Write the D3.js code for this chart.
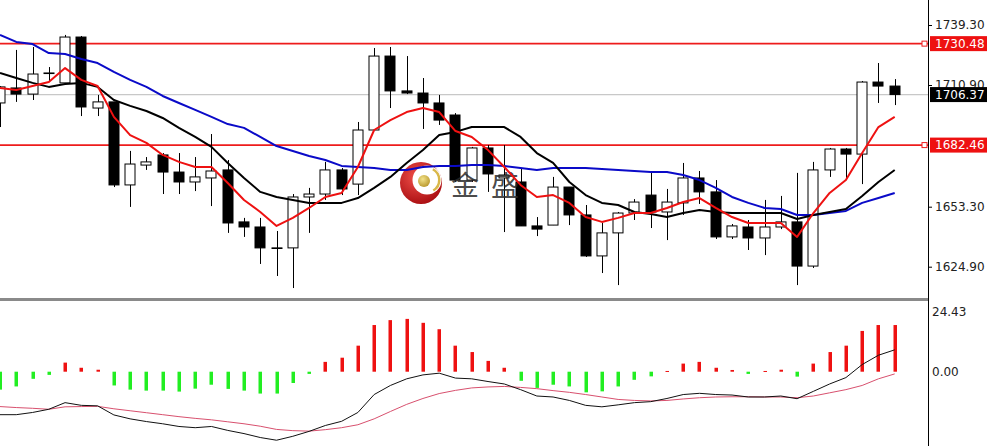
<!DOCTYPE html>
<html><head><meta charset="utf-8">
<script src="https://cdn.jsdelivr.net/npm/d3@7"></script>
<style>body{margin:0;background:#fff}svg{display:block}</style>
</head><body><svg id="c" width="987" height="446"></svg>
<script>
// ---- data ----
const opens = [1702.4,1709.5,1706.6,1716.4,1711.9,1733.6,1700.0,1702.9,1663.6,1673.0,
1677.8,1669.7,1665.0,1666.9,1670.7,1646.1,1643.7,1633.8,1633.8,1657.9,
1659.3,1670.7,1664.0,1689.6,1724.6,1708.1,1707.1,1702.4,1696.7,1665.9,
1681.1,1666.9,1665.0,1644.2,1644.6,1662.6,1649.4,1630.0,1640.9,1650.3,
1658.8,1650.8,1655.1,1666.9,1660.3,1639.0,1643.7,1638.5,1643.7,1646.1,
1625.2,1670.7,1680.6,1678.2,1712.3,1710.4];
const highs = [1710.4,1727.5,1728.9,1719.4,1734.6,1734.1,1706.2,1702.9,1679.7,1676.8,
1678.7,1678.7,1676.8,1687.7,1675.4,1648.0,1648.0,1641.8,1659.3,1662.2,
1674.5,1671.6,1693.4,1728.4,1728.9,1724.6,1714.2,1706.2,1697.6,1681.6,
1682.5,1682.5,1671.6,1648.4,1667.4,1662.6,1654.1,1645.6,1650.8,1656.9,
1669.3,1661.7,1674.0,1670.2,1665.9,1645.1,1647.0,1656.5,1658.4,1669.3,
1674.5,1681.1,1681.1,1712.8,1721.3,1713.7];
const lows = [1691.0,1702.9,1703.8,1712.8,1711.9,1696.2,1696.2,1662.6,1653.2,1670.7,
1659.3,1659.3,1660.7,1653.6,1640.9,1639.0,1626.2,1620.5,1614.8,1640.9,
1656.5,1658.8,1658.8,1689.6,1700.0,1706.6,1690.1,1692.0,1665.0,1665.0,
1660.3,1641.3,1644.2,1639.4,1644.6,1644.6,1629.5,1621.9,1616.2,1647.0,
1643.2,1637.5,1649.4,1654.6,1638.0,1638.0,1632.8,1630.4,1642.7,1616.2,
1624.3,1667.4,1666.9,1664.0,1702.4,1701.4];
const closes = [1710.0,1706.6,1716.1,1716.6,1733.6,1700.5,1702.9,1663.6,1673.5,1674.5,
1669.7,1665.0,1667.4,1670.2,1645.6,1643.7,1633.8,1633.6,1657.9,1659.3,
1670.7,1661.7,1689.6,1724.6,1708.1,1707.1,1702.4,1694.3,1665.9,1681.1,
1668.8,1668.3,1644.2,1642.7,1662.6,1649.4,1630.0,1640.9,1650.3,1655.5,
1650.8,1655.5,1666.9,1660.3,1639.0,1644.2,1638.5,1643.7,1646.1,1625.2,
1670.7,1680.6,1678.2,1712.3,1710.4,1706.37];
const maRed = [1709.5,1708.5,1710.4,1712.3,1718.9,1713.3,1710.4,1695.8,1687.2,1683.5,
1677.8,1674.5,1672.1,1672.1,1664.5,1656.5,1650.8,1644.2,1648.0,1652.7,
1657.9,1659.8,1672.1,1689.6,1694.3,1698.1,1700.0,1698.1,1689.1,1686.3,
1680.1,1672.1,1663.6,1657.9,1658.8,1655.1,1648.4,1646.1,1648.0,1650.3,
1650.3,1652.7,1655.5,1657.4,1652.7,1648.4,1645.6,1645.6,1645.6,1639.0,
1650.3,1659.8,1665.9,1678.7,1691.0,1695.8];
const maBlack = [1716.6,1714.2,1711.9,1710.0,1711.4,1711.9,1710.0,1703.8,1701.0,1698.6,
1695.3,1690.6,1686.3,1681.6,1674.0,1666.9,1660.3,1657.9,1656.5,1655.1,
1655.1,1655.1,1657.4,1662.2,1667.4,1674.0,1680.1,1687.2,1688.7,1691.0,
1691.0,1691.0,1686.3,1678.7,1674.0,1665.0,1658.8,1655.1,1654.1,1650.8,
1649.8,1648.4,1650.3,1651.7,1650.8,1650.3,1650.3,1650.3,1650.3,1647.5,
1649.4,1650.8,1652.2,1658.4,1665.0,1670.7];
const maBlue = [1734.6,1731.3,1730.3,1726.0,1725.6,1723.2,1721.3,1717.1,1713.3,1710.0,
1705.7,1702.4,1699.1,1695.8,1692.4,1690.6,1686.3,1682.0,1679.7,1677.3,
1675.4,1672.6,1672.1,1671.6,1670.7,1670.7,1672.1,1672.6,1672.6,1673.0,
1673.0,1672.6,1671.6,1670.7,1671.6,1671.6,1671.6,1671.1,1670.7,1670.2,
1669.7,1669.7,1668.3,1665.9,1662.2,1657.9,1655.1,1652.7,1652.2,1649.4,
1649.4,1650.3,1651.3,1655.1,1657.4,1659.8];
const macdHist = [-7.3,-6.0,-2.9,-1.3,3.7,1.6,0.8,-5.6,-7.3,-7.7,
-7.7,-8.1,-6.9,-5.3,-7.0,-7.7,-8.9,-8.9,-4.6,-0.9,
4.0,5.7,10.6,19.0,21.0,21.5,19.9,17.3,10.6,8.0,
4.4,1.6,-3.7,-6.6,-5.3,-6.0,-8.4,-8.0,-6.0,-3.3,
-1.9,0.3,3.3,4.0,1.6,0.7,-0.9,0.3,0.8,-2.0,
3.3,8.0,10.6,16.6,19.0,19.0];
const macdDif = [-17.5,-17.5,-16.6,-15.3,-12.6,-13.7,-13.9,-17.6,-19.2,-20.3,
-21.2,-22.3,-22.8,-22.3,-23.9,-25.2,-26.8,-27.9,-26.3,-24.3,
-21.9,-20.2,-16.6,-9.3,-5.6,-2.9,-1.3,-0.6,-2.6,-2.9,
-4.0,-5.0,-7.3,-9.9,-10.3,-11.7,-13.7,-14.3,-13.5,-12.6,
-12.2,-10.9,-9.3,-8.8,-9.3,-9.5,-10.3,-10.3,-9.9,-11.0,
-8.0,-5.0,-2.4,2.9,6.7,8.9];
const macdDea = [-14.2,-14.6,-14.9,-15.3,-14.3,-14.2,-14.1,-15.1,-15.9,-16.7,
-17.5,-18.3,-19.0,-19.6,-20.4,-21.2,-22.2,-23.5,-24.0,-24.2,
-23.6,-22.8,-21.6,-19.2,-16.2,-13.3,-10.9,-8.9,-7.6,-6.6,
-6.2,-6.0,-6.4,-6.9,-7.7,-8.4,-9.3,-10.3,-11.3,-11.7,
-11.9,-11.7,-11.1,-10.6,-10.3,-10.2,-10.2,-10.3,-10.3,-10.6,
-9.9,-8.6,-7.3,-5.6,-2.9,-0.9];
const levels = [1730.48, 1682.46];
const lastPrice = 1706.37;
const priceTicks = [1739.30, 1710.90, 1653.30, 1624.90];
const macdTicks = [24.43, 0.00];
const logoText = ["金", "盛"];

// ---- layout ----
const plotR = 928;
const idx = d3.range(closes.length);
const x = d3.scaleLinear().domain([0, 55]).range([0, 894.7]);
const y = d3.scaleLinear().domain([1624.9, 1739.3]).range([266.7, 25]);
const ym = d3.scaleLinear().domain([0, 24.43]).range([371.7, 311.7]);
const fmt = d3.format(".2f");
const FONT = "DejaVu Sans, Verdana, sans-serif";

const svg = d3.select("#c");
svg.append("rect").attr("width", 987).attr("height", 446).attr("fill", "#fff");
const defs = svg.append("defs");
defs.append("clipPath").attr("id", "cm").append("rect").attr("x", 0).attr("y", 0).attr("width", plotR).attr("height", 297);
defs.append("clipPath").attr("id", "cd").append("rect").attr("x", 0).attr("y", 302).attr("width", plotR).attr("height", 144);
const rg = defs.append("radialGradient").attr("id", "lg").attr("cx", "40%").attr("cy", "35%").attr("r", "70%");
rg.append("stop").attr("offset", "0%").attr("stop-color", "#f0504a");
rg.append("stop").attr("offset", "100%").attr("stop-color", "#a80c10");
const gg = defs.append("radialGradient").attr("id", "gg").attr("cx", "40%").attr("cy", "35%").attr("r", "70%");
gg.append("stop").attr("offset", "0%").attr("stop-color", "#f2e28a");
gg.append("stop").attr("offset", "100%").attr("stop-color", "#b8962a");

const main = svg.append("g").attr("clip-path", "url(#cm)");

// last price line
main.append("line").attr("x1", 0).attr("x2", plotR).attr("y1", y(lastPrice)).attr("y2", y(lastPrice))
  .attr("stroke", "#c8c8c8").attr("stroke-width", 1.2);
// level lines
main.selectAll("line.lvl").data(levels).join("line").attr("class", "lvl")
  .attr("x1", 0).attr("x2", plotR).attr("y1", d => y(d)).attr("y2", d => y(d))
  .attr("stroke", "#ee1c1c").attr("stroke-width", 1.6);
main.selectAll("rect.lvm").data(levels).join("rect").attr("class", "lvm")
  .attr("x", plotR - 6).attr("y", d => y(d) - 2.5).attr("width", 5).attr("height", 5)
  .attr("fill", "#fff").attr("stroke", "#ee1c1c").attr("stroke-width", 1);

// candles
const bw = 11;
const cg = main.append("g");
cg.selectAll("line.wick").data(idx).join("line").attr("class", "wick")
  .attr("x1", i => Math.round(x(i)) + 0.5).attr("x2", i => Math.round(x(i)) + 0.5)
  .attr("y1", i => y(highs[i])).attr("y2", i => y(lows[i]))
  .attr("stroke", "#000").attr("stroke-width", 1);
cg.selectAll("rect.body").data(idx).join("rect").attr("class", "body")
  .attr("x", i => Math.round(x(i)) - 5)
  .attr("y", i => Math.min(y(opens[i]), y(closes[i])))
  .attr("width", bw - 1)
  .attr("height", i => Math.max(0.6, Math.abs(y(opens[i]) - y(closes[i]))))
  .attr("fill", i => closes[i] >= opens[i] ? "#fff" : "#000")
  .attr("stroke", "#000").attr("stroke-width", 1);

// watermark logo
const lgX = 421, lgY = 183;
const logo = main.append("g").attr("transform", `translate(${lgX},${lgY})`);
logo.append("circle").attr("r", 21).attr("fill", "url(#lg)");
logo.append("circle").attr("cx", 6).attr("cy", -3).attr("r", 14.5).attr("fill", "#fff");
logo.append("path").attr("d", d3.arc()({innerRadius: 11, outerRadius: 13.5, startAngle: 0.5, endAngle: 2.6}))
  .attr("transform", "translate(6,-3)").attr("fill", "#d9b84a");
logo.append("circle").attr("cx", 3).attr("cy", -2).attr("r", 6).attr("fill", "url(#gg)");
main.selectAll("text.wm").data(logoText).join("text").attr("class", "wm")
  .attr("x", (d, i) => lgX + 44 + i * 40).attr("y", lgY + 13)
  .attr("text-anchor", "middle")
  .attr("font-family", "Noto Sans CJK SC, sans-serif").attr("font-size", 28)
  .attr("fill", "#2a2a2a").attr("fill-opacity", 0.85).text(d => d);

// moving averages
const line = arr => d3.line().x(i => x(i)).y(i => y(arr[i]))(idx);
[[maBlue, "#0a0ac8"], [maBlack, "#000"], [maRed, "#ee1111"]].forEach(([arr, c]) => {
  main.append("path").attr("d", line(arr)).attr("fill", "none").attr("stroke", c)
    .attr("stroke-width", 2).attr("stroke-linejoin", "round");
});

// separator
svg.append("rect").attr("x", 0).attr("y", 298).attr("width", plotR).attr("height", 3).attr("fill", "#8a8a8a");

// MACD panel
const md = svg.append("g").attr("clip-path", "url(#cd)");
md.selectAll("rect.h").data(idx).join("rect").attr("class", "h")
  .attr("x", i => Math.round(x(i)) - 1.5)
  .attr("y", i => Math.min(ym(macdHist[i]), ym(0)))
  .attr("width", 3.5)
  .attr("height", i => Math.max(1, Math.abs(ym(macdHist[i]) - ym(0))))
  .attr("fill", i => macdHist[i] >= 0 ? "#ee1111" : "#22ee22");
md.append("path").attr("d", d3.line().x(i => x(i)).y(i => ym(macdDea[i]))(idx))
  .attr("fill", "none").attr("stroke", "#d8506e").attr("stroke-width", 1);
md.append("path").attr("d", d3.line().x(i => x(i)).y(i => ym(macdDif[i]))(idx))
  .attr("fill", "none").attr("stroke", "#111").attr("stroke-width", 1);

// axes
const ax = svg.append("g").attr("transform", `translate(${plotR},0)`)
  .call(d3.axisRight(y).tickValues(priceTicks).tickSize(4).tickPadding(3).tickFormat(fmt));
ax.select(".domain").remove();
ax.selectAll("text").attr("font-family", FONT).attr("font-size", 12).attr("fill", "#222");
ax.selectAll("line").attr("stroke", "#000");

const ax2 = svg.append("g").attr("transform", `translate(${plotR},0)`)
  .call(d3.axisRight(ym).tickValues(macdTicks).tickSize(0).tickPadding(4).tickFormat(fmt));
ax2.select(".domain").remove();
ax2.selectAll("text").attr("font-family", FONT).attr("font-size", 12).attr("fill", "#222");

svg.append("line").attr("x1", plotR + 0.5).attr("x2", plotR + 0.5).attr("y1", 0).attr("y2", 446)
  .attr("stroke", "#000").attr("stroke-width", 1);

// price labels
const tags = levels.map(v => ({v, c: "#ee1111"})).concat([{v: lastPrice, c: "#000"}]);
const tg = svg.selectAll("g.tag").data(tags).join("g").attr("class", "tag");
tg.append("rect").attr("x", plotR + 2).attr("y", d => y(d.v) - 7.5).attr("width", 60).attr("height", 15).attr("fill", d => d.c);
tg.append("text").attr("x", plotR + 7).attr("y", d => y(d.v)).attr("dy", "0.36em")
  .attr("font-family", FONT).attr("font-size", 12).attr("fill", "#fff").text(d => fmt(d.v));
</script></body></html>
